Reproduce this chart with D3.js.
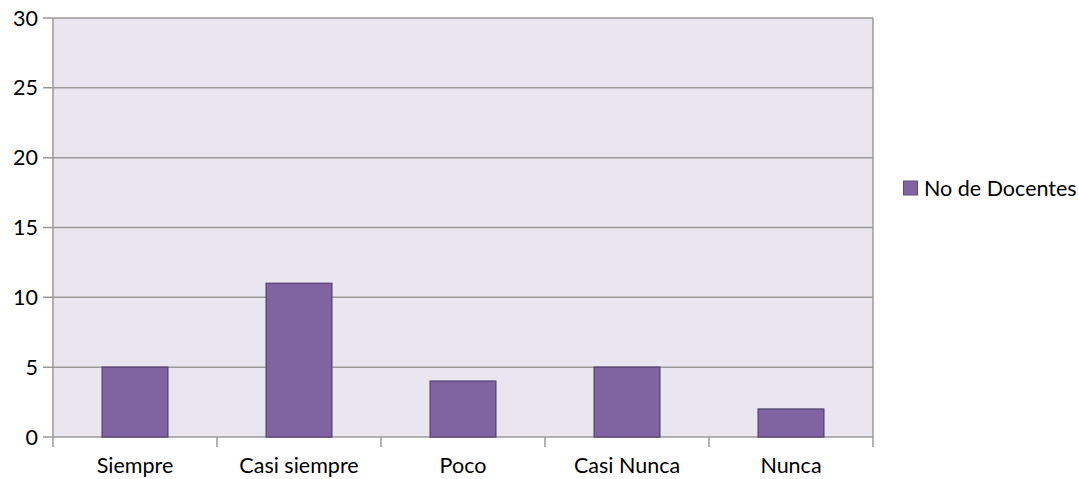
<!DOCTYPE html>
<html><head><meta charset="utf-8">
<script src="https://cdn.jsdelivr.net/npm/d3@7"></script>
<style>body{margin:0;background:#fff}svg{display:block}text{font-family:Lato,Carlito,sans-serif;fill:#000}</style>
</head><body><svg id="c" width="1078" height="479"></svg>
<script>
const categories = ["Siempre","Casi siempre","Poco","Casi Nunca","Nunca"];
const values = [5,11,4,5,2];
const yTicks = [0,5,10,15,20,25,30];
const seriesName = "No de Docentes";

const svg = d3.select("#c");
const L=53,R=873,T=18,B=437;
const x = d3.scaleBand().domain(categories).range([L,R]).paddingInner(0).paddingOuter(0);
const y = d3.scaleLinear().domain([0,30]).range([B,T]);
const gridColor="#9a9a9a";
const fs = 21.5;

svg.append("rect").attr("x",L).attr("y",T).attr("width",R-L).attr("height",B-T).attr("fill","#E9E6EF");
svg.append("g").selectAll("line").data(yTicks).join("line")
 .attr("x1",L-10).attr("x2",R).attr("y1",d=>y(d)).attr("y2",d=>y(d))
 .attr("stroke",gridColor).attr("stroke-width",1.5);
svg.append("line").attr("x1",R).attr("x2",R).attr("y1",T).attr("y2",B).attr("stroke",gridColor).attr("stroke-width",1.5);
svg.append("line").attr("x1",L).attr("x2",L).attr("y1",T).attr("y2",B+10).attr("stroke",gridColor).attr("stroke-width",1.5);
const bounds = categories.map(c=>x(c)).concat([R]);
svg.append("g").selectAll("line").data(bounds.slice(1)).join("line")
 .attr("x1",d=>d).attr("x2",d=>d).attr("y1",B).attr("y2",B+10).attr("stroke",gridColor).attr("stroke-width",1.5);
svg.append("g").selectAll("text").data(yTicks).join("text")
 .attr("x",38).attr("y",d=>y(d)).attr("dy","0.35em").attr("text-anchor","end")
 .attr("font-size",fs).text(d=>d);
const bw = x.bandwidth()*0.4;
svg.append("g").selectAll("rect").data(values).join("rect")
 .attr("x",(d,i)=>x(categories[i])+x.bandwidth()/2-bw/2).attr("width",bw)
 .attr("y",d=>y(d)).attr("height",d=>B-y(d))
 .attr("fill","#8064A2").attr("stroke","#5C4A7A").attr("stroke-width",1.5);
svg.append("g").selectAll("text").data(categories).join("text")
 .attr("x",d=>x(d)+x.bandwidth()/2).attr("y",473).attr("text-anchor","middle")
 .attr("font-size",fs).text(d=>d);
svg.append("rect").attr("x",903.5).attr("y",181).attr("width",14).attr("height",14)
 .attr("fill","#8064A2").attr("stroke","#5C4A7A").attr("stroke-width",1);
svg.append("text").attr("x",924).attr("y",188).attr("dy","0.35em").attr("font-size",fs).text(seriesName);
</script></body></html>
